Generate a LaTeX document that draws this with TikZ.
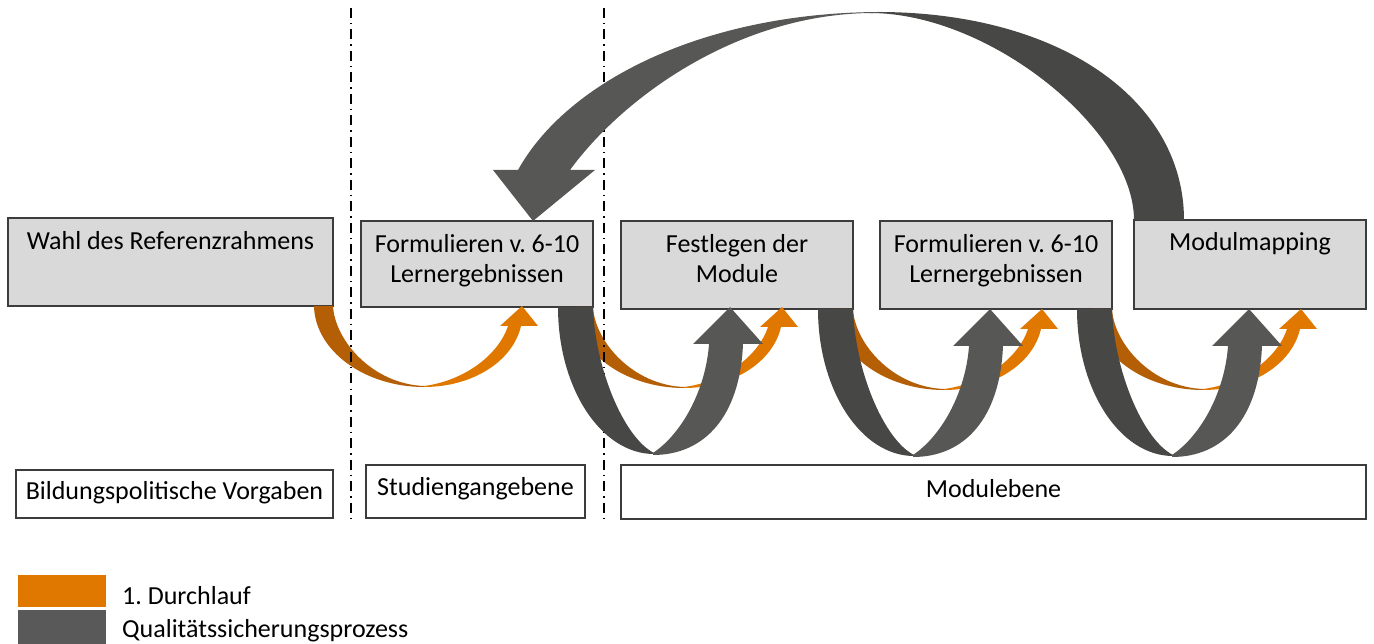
\documentclass[tikz,border=0pt]{standalone}
\usepackage{fontspec}
\setmainfont{Carlito}
\usetikzlibrary{calc}
\definecolor{boxfill}{HTML}{D9D9D9}
\definecolor{boxline}{HTML}{3C3C3C}
\definecolor{orgdark}{HTML}{B45F06}
\definecolor{orglight}{HTML}{E07800}
\definecolor{graydark}{HTML}{474745}
\definecolor{graylight}{HTML}{575756}
\definecolor{legendgray}{HTML}{595959}
\tikzset{
 orangearrow/.pic={
  \fill[orgdark] (-19,0) .. controls (-18,45) and (32,81) .. (91,81) -- (91,80) .. controls (40,78) and (2,35) .. (0,0) -- cycle;
  \fill[orglight] (91,81) .. controls (140,81) and (180,55) .. (188,20) -- (205,20) -- (189,0) -- (167,20) -- (175,20) .. controls (165,50) and (130,75) .. (91,80) -- cycle;
 },
 grayarrow/.pic={
  \fill[graydark] (-35,0) .. controls (-35,81) and (8,147) .. (61,147) -- (61,146) .. controls (30,130) and (2,60) .. (0,0) -- cycle;
  \fill[graylight] (60,146) .. controls (91,125) and (113,80) .. (116,37) -- (100,37) -- (137,0) -- (170,37) -- (150,37) .. controls (147,110) and (111,148) .. (60,148) -- cycle;
 }
}
\begin{document}
\frenchspacing
\begin{tikzpicture}[x=1pt,y=-1pt,
 stepbox/.style={draw=boxline, line width=1.2pt, fill=boxfill, inner sep=0pt, outer sep=0pt},
 levelbox/.style={draw=boxline, line width=1.2pt, fill=white, inner sep=0pt, outer sep=0pt},
 txt/.style={font=\fontsize{26}{30}\selectfont\frenchspacing, align=center, inner sep=0pt, anchor=north},
 legtxt/.style={font=\fontsize{26}{30}\selectfont\frenchspacing, inner sep=0pt, anchor=base west},
 divider/.style={line width=1.5pt, dash pattern=on 10pt off 5pt on 1.5pt off 5pt}]
\useasboundingbox (0,0) rectangle (1374,644);

% boxes
\node[stepbox, minimum width=325pt, minimum height=88pt] (wahl) at (170.5,262) {};
\node[stepbox, minimum width=232pt, minimum height=86pt] (form1) at (477,264) {};
\node[stepbox, minimum width=232pt, minimum height=88pt] (fest) at (737,265) {};
\node[stepbox, minimum width=232pt, minimum height=88pt] (form2) at (996,265) {};
\node[stepbox, minimum width=232pt, minimum height=89pt] (mapping) at (1250,264.5) {};
\node[levelbox, minimum width=317pt, minimum height=48pt] (bild) at (174.5,494) {};
\node[levelbox, minimum width=219pt, minimum height=53pt] (stud) at (475.5,491.5) {};
\node[levelbox, minimum width=745pt, minimum height=54pt] (modul) at (993.5,492) {};

% orange arrows (1. Durchlauf)
\pic at (wahl.south east) {orangearrow};
\pic at (form1.south east) {orangearrow};
\pic at (fest.south east) {orangearrow};
\pic at (form2.south east) {orangearrow};

% dividers
\coordinate (d1top) at (351,8);
\coordinate (d1bot) at (351,523);
\coordinate (d2top) at (604,8);
\coordinate (d2bot) at (604,523);
\draw[divider] (d1top) -- (d1bot);
\draw[divider] (d2top) -- (d2bot);

% texts
\node[txt] (wahltxt) at ($(wahl.north)+(0,13)$) {Wahl des Referenzrahmens};
\node[txt] (form1txt) at ($(form1.north)+(0,13)$) {Formulieren v. 6-10\\Lernergebnissen};
\node[txt] (festtxt) at ($(fest.north)+(0,13)$) {Festlegen der\\Module};
\node[txt] (form2txt) at ($(form2.north)+(0,13)$) {Formulieren v. 6-10\\Lernergebnissen};
\node[txt] (mappingtxt) at ($(mapping.north)+(0,12)$) {Modulmapping};
\node[txt] (bildtxt) at ($(bild.north)+(0,11)$) {Bildungspolitische Vorgaben};
\node[txt] (studtxt) at ($(stud.north)+(0,12)$) {Studiengangebene};
\node[txt] (modultxt) at ($(modul.north)+(0,14)$) {Modulebene};

% gray arrows (Qualitaetssicherung)
\pic at (form1.south east) {grayarrow};
\pic at (fest.south east) {grayarrow};
\pic at (form2.south east) {grayarrow};

% big return arrow
\fill[graydark] (1184,220) .. controls (1184,100) and (1060,12) .. (878,12) -- (870,13) .. controls (990,13) and (1134,130) .. (1134,220) -- cycle;
\fill[graylight] (882,12) .. controls (705,12) and (567.5,80.9) .. (518,170) -- (493,170) -- (533,221) -- (595,170) -- (570,170) .. controls (624,96) and (740,13) .. (874,13) -- cycle;

% legend
\node[fill=orglight, minimum width=88pt, minimum height=32pt, inner sep=0pt, outer sep=0pt] (legO) at (62,591) {};
\node[fill=legendgray, minimum width=88pt, minimum height=34pt, inner sep=0pt, outer sep=0pt] (legG) at (62,627) {};
\node[legtxt] (legOt) at ($(legO.east)+(16,13)$) {1. Durchlauf};
\node[legtxt] (legGt) at ($(legG.east)+(16,10)$) {Qualitätssicherungsprozess};
\end{tikzpicture}
\end{document}
